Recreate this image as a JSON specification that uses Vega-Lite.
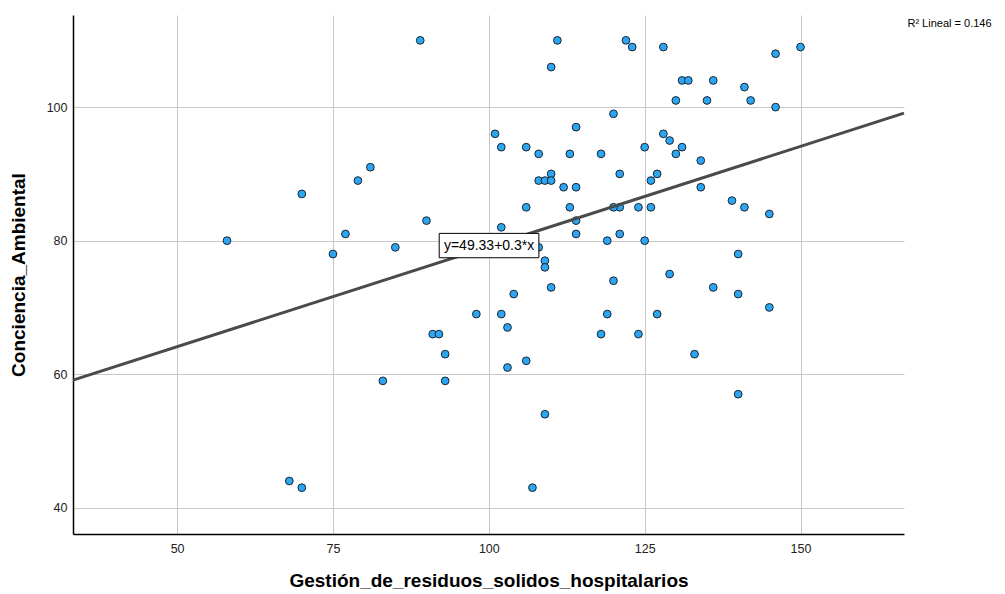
{
  "$schema": "https://vega.github.io/schema/vega-lite/v6.json",
  "width": 831,
  "height": 519,
  "autosize": {"type": "none"},
  "padding": {"left": 73, "top": 15, "right": 101, "bottom": 60},
  "background": "white",
  "config": {"view": {"stroke": null}, "font": "Liberation Sans"},
  "datasets": {
    "points": [
      {"x": 58, "y": 80}, {"x": 68, "y": 44}, {"x": 70, "y": 43}, {"x": 70, "y": 87}, {"x": 75, "y": 78},
      {"x": 77, "y": 81}, {"x": 79, "y": 89}, {"x": 81, "y": 91}, {"x": 89, "y": 110}, {"x": 111, "y": 110},
      {"x": 122, "y": 110}, {"x": 123, "y": 109}, {"x": 110, "y": 106}, {"x": 120, "y": 99}, {"x": 114, "y": 97},
      {"x": 101, "y": 96}, {"x": 102, "y": 94}, {"x": 106, "y": 94}, {"x": 108, "y": 93}, {"x": 113, "y": 93},
      {"x": 118, "y": 93}, {"x": 121, "y": 90}, {"x": 110, "y": 90}, {"x": 108, "y": 89}, {"x": 109, "y": 89},
      {"x": 110, "y": 89}, {"x": 112, "y": 88}, {"x": 114, "y": 88}, {"x": 128, "y": 109}, {"x": 146, "y": 108},
      {"x": 150, "y": 109}, {"x": 131, "y": 104}, {"x": 132, "y": 104}, {"x": 136, "y": 104}, {"x": 141, "y": 103},
      {"x": 130, "y": 101}, {"x": 135, "y": 101}, {"x": 142, "y": 101}, {"x": 146, "y": 100}, {"x": 128, "y": 96},
      {"x": 129, "y": 95}, {"x": 125, "y": 94}, {"x": 131, "y": 94}, {"x": 130, "y": 93}, {"x": 134, "y": 92},
      {"x": 127, "y": 90}, {"x": 126, "y": 89}, {"x": 134, "y": 88}, {"x": 139, "y": 86}, {"x": 141, "y": 85},
      {"x": 145, "y": 84}, {"x": 124, "y": 85}, {"x": 126, "y": 85}, {"x": 121, "y": 85}, {"x": 120, "y": 85},
      {"x": 121, "y": 81}, {"x": 125, "y": 80}, {"x": 140, "y": 78}, {"x": 129, "y": 75}, {"x": 136, "y": 73},
      {"x": 140, "y": 72}, {"x": 145, "y": 70}, {"x": 127, "y": 69}, {"x": 124, "y": 66}, {"x": 133, "y": 63},
      {"x": 140, "y": 57}, {"x": 90, "y": 83}, {"x": 85, "y": 79}, {"x": 102, "y": 82}, {"x": 106, "y": 85},
      {"x": 113, "y": 85}, {"x": 114, "y": 83}, {"x": 114, "y": 81}, {"x": 119, "y": 80}, {"x": 108, "y": 79},
      {"x": 109, "y": 77}, {"x": 109, "y": 76}, {"x": 110, "y": 73}, {"x": 104, "y": 72}, {"x": 120, "y": 74},
      {"x": 98, "y": 69}, {"x": 102, "y": 69}, {"x": 119, "y": 69}, {"x": 103, "y": 67}, {"x": 91, "y": 66},
      {"x": 92, "y": 66}, {"x": 118, "y": 66}, {"x": 93, "y": 63}, {"x": 106, "y": 62}, {"x": 103, "y": 61},
      {"x": 83, "y": 59}, {"x": 93, "y": 59}, {"x": 109, "y": 54}, {"x": 107, "y": 43}
    ],
    "fit": [{"x": 33.3, "y": 59.1}, {"x": 166.6, "y": 99.1}],
    "box": [{"x": 92.04, "x2": 108.03, "y": 77.44, "y2": 81.09, "x_c": 100.04, "y_c": 79.27, "label": "y=49.33+0.3*x"}],
    "r2": [{"x": 173.9, "y": 112.4, "label": "R² Lineal = 0.146"}]
  },
  "encoding": {
    "x": {
      "field": "x", "type": "quantitative",
      "scale": {"domain": [33.3, 166.6], "nice": false, "zero": false},
      "axis": {
        "values": [50, 75, 100, 125, 150],
        "title": "Gestión_de_residuos_solidos_hospitalarios",
        "titleFontSize": 19, "titleFontWeight": "bold", "titleColor": "#000", "titlePadding": 17,
        "labelFontSize": 12.5, "labelColor": "#222", "labelPadding": 8,
        "ticks": false, "grid": true, "gridColor": "#c8c8c8", "gridWidth": 1,
        "domainColor": "#000", "domainWidth": 1.5
      }
    },
    "y": {
      "field": "y", "type": "quantitative",
      "scale": {"domain": [36.06, 113.8], "nice": false, "zero": false},
      "axis": {
        "values": [40, 60, 80, 100],
        "title": "Conciencia_Ambiental",
        "titleFontSize": 19, "titleFontWeight": "bold", "titleColor": "#000", "titlePadding": 18,
        "labelFontSize": 12.5, "labelColor": "#222", "labelPadding": 6,
        "ticks": false, "grid": true, "gridColor": "#c8c8c8", "gridWidth": 1,
        "domainColor": "#000", "domainWidth": 1.5
      }
    }
  },
  "layer": [
    {
      "data": {"name": "points"},
      "mark": {"type": "point", "shape": "circle", "filled": true, "size": 60, "fill": "#2ca6f2", "stroke": "#1a2530", "strokeWidth": 1, "opacity": 1}
    },
    {
      "data": {"name": "fit"},
      "mark": {"type": "line", "color": "#4a4a4a", "strokeWidth": 3},
      "encoding": {}
    },
    {
      "data": {"name": "box"},
      "mark": {"type": "rect", "fill": "white", "stroke": "#000", "strokeWidth": 1},
      "encoding": {
        "x": {"field": "x", "type": "quantitative"},
        "x2": {"field": "x2"},
        "y": {"field": "y", "type": "quantitative"},
        "y2": {"field": "y2"}
      }
    },
    {
      "data": {"name": "box"},
      "mark": {"type": "text", "fontSize": 14, "color": "#000", "align": "center", "baseline": "middle"},
      "encoding": {
        "x": {"field": "x_c", "type": "quantitative"},
        "y": {"field": "y_c", "type": "quantitative"},
        "text": {"field": "label"}
      }
    },
    {
      "data": {"name": "r2"},
      "mark": {"type": "text", "fontSize": 11, "color": "#000", "align": "center", "baseline": "middle"},
      "encoding": {"text": {"field": "label"}}
    }
  ]
}
